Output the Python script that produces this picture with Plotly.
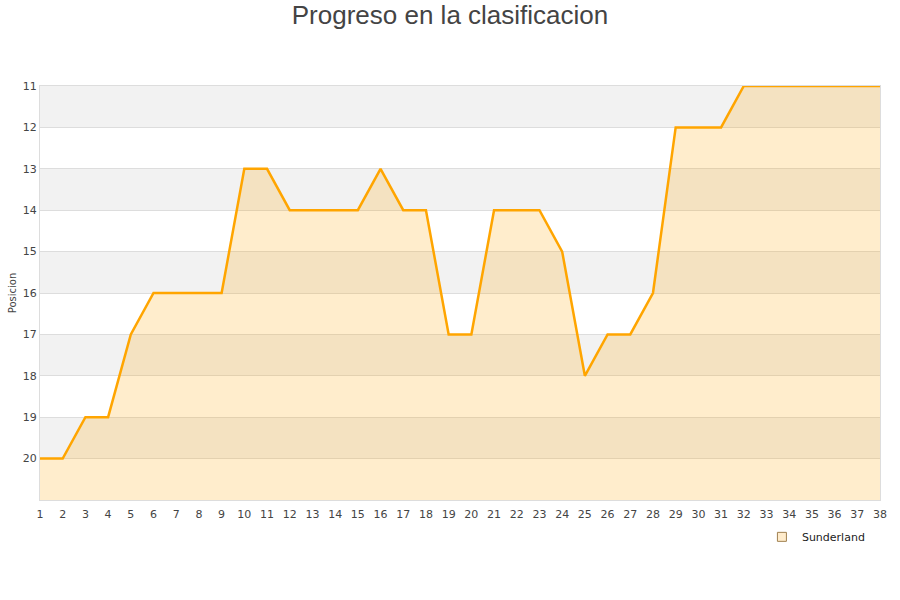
import plotly.graph_objects as go

jornadas = list(range(1, 39))
posiciones = [20, 20, 19, 19, 17, 16, 16, 16, 16, 13, 13, 14, 14, 14, 14, 13, 14, 14, 17, 17,
              14, 14, 14, 15, 18, 17, 17, 16, 12, 12, 12, 11, 11, 11, 11, 11, 11, 11]
y_ticks = list(range(11, 21))
team = "Sunderland"
title = "Progreso en la clasificacion"
y_title = "Posicion"

fig = go.Figure()

# baseline at the bottom of the axis (position 21) for the area fill
fig.add_trace(go.Scatter(x=jornadas, y=[21] * len(jornadas), mode="lines",
                         line=dict(width=0), showlegend=False, hoverinfo="skip"))
fig.add_trace(go.Scatter(x=jornadas, y=posiciones, mode="lines", name=team,
                         line=dict(color="#ffa500", width=2.5),
                         fill="tonexty", fillcolor="rgba(255,165,0,0.2)",
                         showlegend=False))
fig.add_trace(go.Scatter(x=[None], y=[None], mode="markers", name=team,
                         marker=dict(symbol="square", size=9, color="#ffeccc",
                                     line=dict(color="#a08050", width=1))))

shapes = []
for k in range(11, 21, 2):
    shapes.append(dict(type="rect", xref="paper", x0=0, x1=1, yref="y", y0=k, y1=k + 1,
                       fillcolor="#f2f2f2", line=dict(width=0), layer="below"))
fig.update_layout(shapes=shapes)

fig.update_layout(
    width=900, height=600,
    margin=dict(l=40, r=20, t=86, b=100, autoexpand=False),
    paper_bgcolor="white", plot_bgcolor="white",
    title=dict(text=title, x=0.5, xanchor="center", y=0.975, yanchor="middle",
               font=dict(family="Liberation Sans, Arial", size=26, color="#444")),
    font=dict(family="DejaVu Sans", size=11, color="#444"),
    xaxis=dict(range=[1, 38], tickmode="array", tickvals=jornadas, showgrid=False,
               zeroline=False, showline=True, linecolor="#ddd", mirror=True,
               ticks="", automargin=False, ticklabelstandoff=4,
               tickfont=dict(size=11, color="#444")),
    yaxis=dict(range=[21, 11], tickmode="array", tickvals=y_ticks, showgrid=True,
               gridcolor="#ddd", zeroline=False, showline=True, linecolor="#ddd",
               mirror=True, ticks="", automargin=False,
               tickfont=dict(size=11, color="#444"),
               title=dict(text=y_title, font=dict(size=10, color="#444"), standoff=4)),
    legend=dict(x=0.988, xanchor="right", y=-0.089, yanchor="middle",
                font=dict(size=11, color="#222"), bgcolor="rgba(0,0,0,0)"),
    showlegend=True,
)

fig.write_html("out.html", config={"displayModeBar": False},
               post_script="document.body.style.margin='0';")
